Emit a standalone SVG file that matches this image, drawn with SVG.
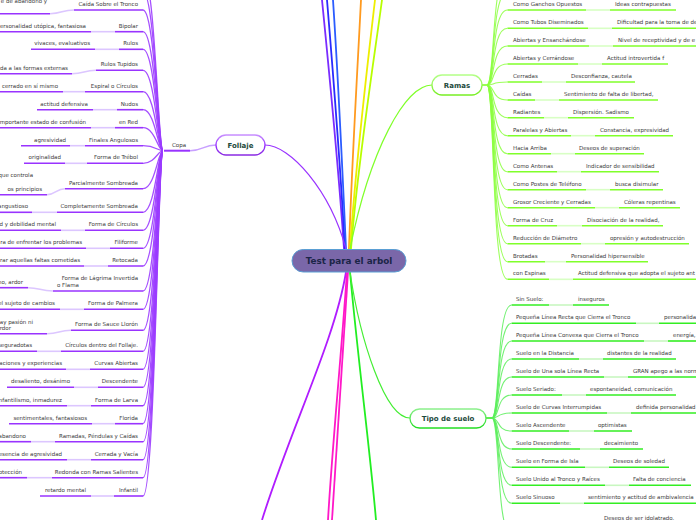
<svg xmlns="http://www.w3.org/2000/svg" width="696" height="520" viewBox="0 0 696 520">
<defs>
<style>
.t{font-family:"DejaVu Sans",Verdana,sans-serif;font-size:5.5px;fill:#3a3a3a}
.e{text-anchor:end}
.nl{font-family:"DejaVu Sans",Verdana,sans-serif;font-weight:bold;font-size:7px;fill:#1d4a3c;text-anchor:middle}
.up{stroke:#9933ff;stroke-width:1.6;fill:none}
.lp{stroke:#dcc6ff;stroke-width:1.6;fill:none}
.bp{stroke:#9b3cff;stroke-width:1.3;fill:none;opacity:.9}
.ug{stroke:#80ff2a;stroke-width:1.6;fill:none}
.lg{stroke:#d8ffc4;stroke-width:1.6;fill:none}
.bg{stroke:#8cff40;stroke-width:1.1;fill:none;opacity:.85}
.us{stroke:#33ee22;stroke-width:1.6;fill:none}
.ls{stroke:#c8f7c0;stroke-width:1.6;fill:none}
.bs{stroke:#5cee5c;stroke-width:1.1;fill:none;opacity:.85}
.m{fill:none;stroke-width:1.8}
</style>
<linearGradient id="gF" x1="0" y1="0" x2="0" y2="1"><stop offset="0" stop-color="#c890ff"/><stop offset=".5" stop-color="#9933ff"/><stop offset="1" stop-color="#8a2be2"/></linearGradient>
<linearGradient id="gR" x1="0" y1="0" x2="0" y2="1"><stop offset="0" stop-color="#b4ff88"/><stop offset="1" stop-color="#77ee22"/></linearGradient>
<linearGradient id="gT" x1="0" y1="0" x2="0" y2="1"><stop offset="0" stop-color="#8cf08c"/><stop offset="1" stop-color="#22dd22"/></linearGradient>
</defs>
<rect width="696" height="520" fill="#fff"/>

<g id="connectors">
<path class="m" stroke="#7a2cff" d="M344,249 C338,160 328,60 322,0"/>
<path class="m" stroke="#2a2aff" d="M345,249 C340,160 332,60 327,0"/>
<path class="m" stroke="#2b5cff" d="M346,249 C342,160 337,60 333,0"/>
<path class="m" stroke="#ff9a1f" d="M349,249 C352,160 358,60 361,0"/>
<path class="m" stroke="#eeee00" d="M350,249 C356,160 368,60 375,0"/>
<path class="m" stroke="#b8ff00" d="M351,249 C358,160 374,60 382,0"/>
<path class="m" stroke="#b01cff" d="M346,272 C335,340 290,430 262,520"/>
<path class="m" stroke="#ff18c8" d="M347,272 C340,370 332,450 328,520"/>
<path class="m" stroke="#ff18c8" d="M348,272 C342,370 336,450 332,520"/>
<path class="m" stroke="#22ee22" d="M350,272 C358,360 370,450 376,520"/>
<path stroke="#9933ff" stroke-width="1.2" fill="none" d="M265,145 C290,145 330,190 346,249"/>
<path stroke="#80ff2a" stroke-width="1.2" fill="none" d="M432,85 C405,85 370,150 350,249"/>
<path stroke="#44ee33" stroke-width="1.2" fill="none" d="M410,418 C385,418 360,340 350,272"/>
<path stroke="#c8a0ff" stroke-width="1.4" fill="none" d="M190,150.7 C203,150.7 203,145 216,145"/>
<path class="bp" d="M163,150.7 C158,150.7 155,-26 143,-26"/>
<path class="bp" d="M163,150.7 C158,150.7 155,-8 143,-8"/>
<path class="bp" d="M163,150.7 C158,150.7 155,10 143,10"/>
<path class="bp" d="M163,150.7 C158,150.7 155,31.7 143,31.7"/>
<path class="bp" d="M163,150.7 C158,150.7 155,49.3 143,49.3"/>
<path class="bp" d="M163,150.7 C158,150.7 155,70.3 143,70.3"/>
<path class="bp" d="M163,150.7 C158,150.7 155,91.7 143,91.7"/>
<path class="bp" d="M163,150.7 C158,150.7 155,109.7 143,109.7"/>
<path class="bp" d="M163,150.7 C158,150.7 155,127.7 143,127.7"/>
<path class="bp" d="M163,150.7 C158,150.7 155,145.7 143,145.7"/>
<path class="bp" d="M163,150.7 C158,150.7 155,163.3 143,163.3"/>
<path class="bp" d="M163,150.7 C158,150.7 155,188.7 143,188.7"/>
<path class="bp" d="M163,150.7 C158,150.7 155,212.3 143,212.3"/>
<path class="bp" d="M163,150.7 C158,150.7 155,230.3 143,230.3"/>
<path class="bp" d="M163,150.7 C158,150.7 155,248.3 143,248.3"/>
<path class="bp" d="M163,150.7 C158,150.7 155,266 143,266"/>
<path class="bp" d="M163,150.7 C158,150.7 155,291 143,291"/>
<path class="bp" d="M163,150.7 C158,150.7 155,309.3 143,309.3"/>
<path class="bp" d="M163,150.7 C158,150.7 155,330.3 143,330.3"/>
<path class="bp" d="M163,150.7 C158,150.7 155,351.3 143,351.3"/>
<path class="bp" d="M163,150.7 C158,150.7 155,369.3 143,369.3"/>
<path class="bp" d="M163,150.7 C158,150.7 155,387.3 143,387.3"/>
<path class="bp" d="M163,150.7 C158,150.7 155,405.7 143,405.7"/>
<path class="bp" d="M163,150.7 C158,150.7 155,423.7 143,423.7"/>
<path class="bp" d="M163,150.7 C158,150.7 155,441.7 143,441.7"/>
<path class="bp" d="M163,150.7 C158,150.7 155,459.7 143,459.7"/>
<path class="bp" d="M163,150.7 C158,150.7 155,477.7 143,477.7"/>
<path class="bp" d="M163,150.7 C158,150.7 155,496 143,496"/>
<path class="lp" d="M50,13.7 C62,13.7 62,10 74,10"/>
<path class="lp" d="M91,31.7 L115,31.7"/>
<path class="lp" d="M95,49.3 L119,49.3"/>
<path class="lp" d="M72,73.7 C84,73.7 84,70.3 96,70.3"/>
<path class="lp" d="M63,91.7 L85,91.7"/>
<path class="lp" d="M93,109.7 L117,109.7"/>
<path class="lp" d="M91,127.7 L115,127.7"/>
<path class="lp" d="M70,145.7 L85,145.7"/>
<path class="lp" d="M65,163.3 L87,163.3"/>
<path class="lp" d="M47,194.7 C56,194.7 56,188.7 65,188.7"/>
<path class="lp" d="M32,212.3 L57,212.3"/>
<path class="lp" d="M61,230.3 L85,230.3"/>
<path class="lp" d="M86,248.3 L110,248.3"/>
<path class="lp" d="M84,266 L108,266"/>
<path class="lp" d="M28,287.7 C40,287.7 40,291 53,291"/>
<path class="lp" d="M60,309.3 L84,309.3"/>
<path class="lp" d="M47,333.7 C59,333.7 59,330.3 71,330.3"/>
<path class="lp" d="M37,351.3 L61,351.3"/>
<path class="lp" d="M66,369.3 L90,369.3"/>
<path class="lp" d="M74,387.3 L98,387.3"/>
<path class="lp" d="M67,405.7 L91,405.7"/>
<path class="lp" d="M92,423.7 L115,423.7"/>
<path class="lp" d="M31,441.7 L55,441.7"/>
<path class="lp" d="M67,459.7 L91,459.7"/>
<path class="lp" d="M27,477.7 L52,477.7"/>
<path class="lp" d="M91,496 L114,496"/>
<path stroke="#80ff2a" stroke-width="1.6" d="M482,85 L487,85"/>
<path class="bg" d="M487,85 C495,85 491,-26 507.5,-26"/>
<path class="bg" d="M487,85 C495,85 491,-8 507.5,-8"/>
<path class="bg" d="M487,85 C495,85 491,10 507.5,10"/>
<path class="bg" d="M487,85 C495,85 491,28.3 507.5,28.3"/>
<path class="bg" d="M487,85 C495,85 491,46 507.5,46"/>
<path class="bg" d="M487,85 C495,85 491,64 507.5,64"/>
<path class="bg" d="M487,85 C495,85 491,82 507.5,82"/>
<path class="bg" d="M487,85 C495,85 491,100 507.5,100"/>
<path class="bg" d="M487,85 C495,85 491,117.7 507.5,117.7"/>
<path class="bg" d="M487,85 C495,85 491,135.7 507.5,135.7"/>
<path class="bg" d="M487,85 C495,85 491,153.7 507.5,153.7"/>
<path class="bg" d="M487,85 C495,85 491,171.7 507.5,171.7"/>
<path class="bg" d="M487,85 C495,85 491,189.7 507.5,189.7"/>
<path class="bg" d="M487,85 C495,85 491,207.7 507.5,207.7"/>
<path class="bg" d="M487,85 C495,85 491,225.7 507.5,225.7"/>
<path class="bg" d="M487,85 C495,85 491,243.7 507.5,243.7"/>
<path class="bg" d="M487,85 C495,85 491,261.7 507.5,261.7"/>
<path class="bg" d="M487,85 C495,85 491,279.3 507.5,279.3"/>
<path class="lg" d="M586,10 L610,10"/>
<path class="lg" d="M588,28.3 L612,28.3"/>
<path class="lg" d="M589,46 L613,46"/>
<path class="lg" d="M578,64 L602,64"/>
<path class="lg" d="M542,82 L566,82"/>
<path class="lg" d="M535,100 L559,100"/>
<path class="lg" d="M544,117.7 L568,117.7"/>
<path class="lg" d="M571,135.7 L595,135.7"/>
<path class="lg" d="M551,153.7 L575,153.7"/>
<path class="lg" d="M557,171.7 L581,171.7"/>
<path class="lg" d="M586,189.7 L610,189.7"/>
<path class="lg" d="M595,207.7 L619,207.7"/>
<path class="lg" d="M557,225.7 L582,225.7"/>
<path class="lg" d="M581,243.7 L605,243.7"/>
<path class="lg" d="M545,261.7 L566,261.7"/>
<path class="lg" d="M549,279.3 L573,279.3"/>
<path stroke="#33ee22" stroke-width="1.6" d="M486,418 L492,418"/>
<path class="bs" d="M492,418 C500,418 496,305 511.7,305"/>
<path class="bs" d="M492,418 C500,418 496,323.3 511.7,323.3"/>
<path class="bs" d="M492,418 C500,418 496,341 511.7,341"/>
<path class="bs" d="M492,418 C500,418 496,359 511.7,359"/>
<path class="bs" d="M492,418 C500,418 496,377 511.7,377"/>
<path class="bs" d="M492,418 C500,418 496,395 511.7,395"/>
<path class="bs" d="M492,418 C500,418 496,413 511.7,413"/>
<path class="bs" d="M492,418 C500,418 496,431 511.7,431"/>
<path class="bs" d="M492,418 C500,418 496,449 511.7,449"/>
<path class="bs" d="M492,418 C500,418 496,467.3 511.7,467.3"/>
<path class="bs" d="M492,418 C500,418 496,485.3 511.7,485.3"/>
<path class="bs" d="M492,418 C500,418 496,503.3 511.7,503.3"/>
<path class="bs" d="M492,418 C500,418 496,535 511.7,535"/>
<path class="ls" d="M549,305 L573,305"/>
<path class="ls" d="M636,323.3 L659,323.3"/>
<path class="ls" d="M644,341 L668,341"/>
<path class="ls" d="M579,359 L603,359"/>
<path class="ls" d="M604,377 L628,377"/>
<path class="ls" d="M562,395 L586,395"/>
<path class="ls" d="M607,413 L631,413"/>
<path class="ls" d="M569,431 L594,431"/>
<path class="ls" d="M580,449 L600,449"/>
<path class="ls" d="M585,467.3 L609,467.3"/>
<path class="ls" d="M605,485.3 L629,485.3"/>
<path class="ls" d="M560,503.3 L584,503.3"/>
</g>

<g id="follaje">
<rect x="216" y="135" width="49" height="20" rx="10" fill="#fff" stroke="url(#gF)" stroke-width="1.3"/>
<text class="nl" x="240.5" y="147.5">Follaje</text>
</g>
<g id="copa">
<line x1="164" y1="150.7" x2="190" y2="150.7" stroke="#9933ff" stroke-width="2"/>
<text class="t" x="172" y="146.5">Copa</text>
</g>

<g id="follaje-children">
<g id="f1"><line class="up" x1="74" y1="10" x2="143" y2="10"/><text class="t e" x="138" y="6">Caída Sobre el Tronco</text></g>
<g id="f1g"><line class="up" x1="0" y1="13.7" x2="50" y2="13.7"/><text class="t e" x="47" y="3">e de abandono y</text></g>
<g id="f2"><line class="up" x1="115" y1="31.7" x2="143" y2="31.7"/><text class="t e" x="138" y="27.7">Bipolar</text></g>
<g id="f2g"><line class="up" x1="0" y1="31.7" x2="91" y2="31.7"/><text class="t e" x="86" y="27.7">ersonalidad utópica, fantasiosa</text></g>
<g id="f3"><line class="up" x1="119" y1="49.3" x2="143" y2="49.3"/><text class="t e" x="138" y="45.3">Rulos</text></g>
<g id="f3g"><line class="up" x1="31" y1="49.3" x2="95" y2="49.3"/><text class="t e" x="90" y="45.3">vivaces, evaluativos</text></g>
<g id="f4"><line class="up" x1="96" y1="70.3" x2="143" y2="70.3"/><text class="t e" x="138" y="66.3">Rulos Tupidos</text></g>
<g id="f4g"><line class="up" x1="0" y1="73.7" x2="72" y2="73.7"/><text class="t e" x="68" y="69.5">da a las formas externas</text></g>
<g id="f5"><line class="up" x1="85" y1="91.7" x2="143" y2="91.7"/><text class="t e" x="138" y="87.7">Espiral o Círculos</text></g>
<g id="f5g"><line class="up" x1="0" y1="91.7" x2="63" y2="91.7"/><text class="t e" x="58" y="87.7">cerrado en sí mismo</text></g>
<g id="f6"><line class="up" x1="117" y1="109.7" x2="143" y2="109.7"/><text class="t e" x="138" y="105.7">Nudos</text></g>
<g id="f6g"><line class="up" x1="37" y1="109.7" x2="93" y2="109.7"/><text class="t e" x="88" y="105.7">actitud defensiva</text></g>
<g id="f7"><line class="up" x1="115" y1="127.7" x2="143" y2="127.7"/><text class="t e" x="138" y="123.7">en Red</text></g>
<g id="f7g"><line class="up" x1="0" y1="127.7" x2="91" y2="127.7"/><text class="t e" x="86" y="123.7">mportante estado de confusión</text></g>
<g id="f8"><line class="up" x1="85" y1="145.7" x2="143" y2="145.7"/><text class="t e" x="138" y="141.7">Finales Angulosos</text></g>
<g id="f8g"><line class="up" x1="21" y1="145.7" x2="70" y2="145.7"/><text class="t e" x="66" y="141.7">agresividad</text></g>
<g id="f9"><line class="up" x1="87" y1="163.3" x2="143" y2="163.3"/><text class="t e" x="138" y="159.3">Forma de Trébol</text></g>
<g id="f9g"><line class="up" x1="24" y1="163.3" x2="65" y2="163.3"/><text class="t e" x="61" y="159.3">originalidad</text></g>
<g id="f10"><line class="up" x1="65" y1="188.7" x2="143" y2="188.7"/><text class="t e" x="138" y="184.7">Parcialmente Sombreada</text></g>
<g id="f10g"><line class="up" x1="0" y1="194.7" x2="47" y2="194.7"/><text class="t e" x="33" y="177">que controla</text><text class="t e" x="42" y="190.5">os principios</text></g>
<g id="f11"><line class="up" x1="57" y1="212.3" x2="143" y2="212.3"/><text class="t e" x="138" y="208.3">Completamente Sombreada</text></g>
<g id="f11g"><line class="up" x1="0" y1="212.3" x2="32" y2="212.3"/><text class="t e" x="28" y="208.3">angustioso</text></g>
<g id="f12"><line class="up" x1="85" y1="230.3" x2="143" y2="230.3"/><text class="t e" x="138" y="226.3">Forma de Círculos</text></g>
<g id="f12g"><line class="up" x1="0" y1="230.3" x2="61" y2="230.3"/><text class="t e" x="56" y="226.3">d y debilidad mental</text></g>
<g id="f13"><line class="up" x1="110" y1="248.3" x2="143" y2="248.3"/><text class="t e" x="138" y="244.3">Filiforme</text></g>
<g id="f13g"><line class="up" x1="0" y1="248.3" x2="86" y2="248.3"/><text class="t e" x="82" y="244.3">ra de enfrentar los problemas</text></g>
<g id="f14"><line class="up" x1="108" y1="266" x2="143" y2="266"/><text class="t e" x="138" y="262">Retocada</text></g>
<g id="f14g"><line class="up" x1="0" y1="266" x2="84" y2="266"/><text class="t e" x="80" y="262">rar aquellas faltas cometidas</text></g>
<g id="f15"><line class="up" x1="53" y1="291" x2="143" y2="291"/><text class="t e" x="138" y="279.7">Forma de Lágrima Invertida</text><text class="t" x="57" y="287">o Flama</text></g>
<g id="f15g"><line class="up" x1="0" y1="287.7" x2="28" y2="287.7"/><text class="t e" x="23" y="283.5">no, ardor</text></g>
<g id="f16"><line class="up" x1="84" y1="309.3" x2="143" y2="309.3"/><text class="t e" x="138" y="305.3">Forma de Palmera</text></g>
<g id="f16g"><line class="up" x1="0" y1="309.3" x2="60" y2="309.3"/><text class="t e" x="55" y="305.3">el sujeto de cambios</text></g>
<g id="f17"><line class="up" x1="71" y1="330.3" x2="143" y2="330.3"/><text class="t e" x="138" y="326.3">Forma de Sauce Llorón</text></g>
<g id="f17g"><line class="up" x1="0" y1="333.7" x2="47" y2="333.7"/><text class="t e" x="33" y="323.8">o hay pasión ni</text><text class="t e" x="11" y="329.5">rdor</text></g>
<g id="f18"><line class="up" x1="61" y1="351.3" x2="143" y2="351.3"/><text class="t e" x="138" y="347.3">Círculos dentro del Follaje.</text></g>
<g id="f18g"><line class="up" x1="0" y1="351.3" x2="37" y2="351.3"/><text class="t e" x="32" y="347.3">seguradotas</text></g>
<g id="f19"><line class="up" x1="90" y1="369.3" x2="143" y2="369.3"/><text class="t e" x="138" y="365.3">Curvas Abiertas</text></g>
<g id="f19g"><line class="up" x1="0" y1="369.3" x2="66" y2="369.3"/><text class="t e" x="62" y="365.3">aciones y experiencias</text></g>
<g id="f20"><line class="up" x1="98" y1="387.3" x2="143" y2="387.3"/><text class="t e" x="138" y="383.3">Descendente</text></g>
<g id="f20g"><line class="up" x1="7" y1="387.3" x2="74" y2="387.3"/><text class="t e" x="70" y="383.3">desaliento, desánimo</text></g>
<g id="f21"><line class="up" x1="91" y1="405.7" x2="143" y2="405.7"/><text class="t e" x="138" y="401.7">Forma de Larva</text></g>
<g id="f21g"><line class="up" x1="0" y1="405.7" x2="67" y2="405.7"/><text class="t e" x="62" y="401.7">nfantilismo, inmadurez</text></g>
<g id="f22"><line class="up" x1="115" y1="423.7" x2="143" y2="423.7"/><text class="t e" x="138" y="419.7">Florida</text></g>
<g id="f22g"><line class="up" x1="9" y1="423.7" x2="92" y2="423.7"/><text class="t e" x="87" y="419.7">sentimentales, fantasiosos</text></g>
<g id="f23"><line class="up" x1="55" y1="441.7" x2="143" y2="441.7"/><text class="t e" x="138" y="437.7">Ramadas, Péndulas y Caídas</text></g>
<g id="f23g"><line class="up" x1="0" y1="441.7" x2="31" y2="441.7"/><text class="t e" x="26" y="437.7">abandono</text></g>
<g id="f24"><line class="up" x1="91" y1="459.7" x2="143" y2="459.7"/><text class="t e" x="138" y="455.7">Cerrada y Vacía</text></g>
<g id="f24g"><line class="up" x1="0" y1="459.7" x2="67" y2="459.7"/><text class="t e" x="62" y="455.7">esencia de agresividad</text></g>
<g id="f25"><line class="up" x1="52" y1="477.7" x2="143" y2="477.7"/><text class="t e" x="138" y="473.7">Redonda con Ramas Salientes</text></g>
<g id="f25g"><line class="up" x1="0" y1="477.7" x2="27" y2="477.7"/><text class="t e" x="22" y="473.7">otección</text></g>
<g id="f26"><line class="up" x1="114" y1="496" x2="143" y2="496"/><text class="t e" x="138" y="492">Infantil</text></g>
<g id="f26g"><line class="up" x1="40" y1="496" x2="91" y2="496"/><text class="t e" x="86" y="492">retardo mental</text></g>
</g>

<g id="ramas">
<rect x="432" y="75" width="50" height="20" rx="10" fill="#fff" stroke="url(#gR)" stroke-width="1.3"/>
<text class="nl" x="457" y="87.5">Ramas</text>
</g>
<g id="ramas-children">
<g id="r1"><line class="ug" x1="507.5" y1="10" x2="586" y2="10"/><text class="t" x="513" y="6">Como Ganchos Opuestos</text><line class="ug" x1="610" y1="10" x2="676" y2="10"/><text class="t" x="615" y="6">Ideas contrapuestas</text></g>
<g id="r2"><line class="ug" x1="507.5" y1="28.3" x2="588" y2="28.3"/><text class="t" x="513" y="24.3">Como Tubos Diseminados</text><line class="ug" x1="612" y1="28.3" x2="700" y2="28.3"/><text class="t" x="617" y="24.3">Dificultad para la toma de de</text></g>
<g id="r3"><line class="ug" x1="507.5" y1="46" x2="589" y2="46"/><text class="t" x="513" y="42">Abiertas y Ensanchándose</text><line class="ug" x1="613" y1="46" x2="700" y2="46"/><text class="t" x="618" y="42">Nivel de receptividad y de e</text></g>
<g id="r4"><line class="ug" x1="507.5" y1="64" x2="578" y2="64"/><text class="t" x="513" y="60">Abiertas y Cerrándose</text><line class="ug" x1="602" y1="64" x2="668" y2="64"/><text class="t" x="607" y="60">Actitud introvertida f</text></g>
<g id="r5"><line class="ug" x1="507.5" y1="82" x2="542" y2="82"/><text class="t" x="513" y="78">Cerradas</text><line class="ug" x1="566" y1="82" x2="635" y2="82"/><text class="t" x="571" y="78">Desconfianza, cautela</text></g>
<g id="r6"><line class="ug" x1="507.5" y1="100" x2="535" y2="100"/><text class="t" x="513" y="96">Caídas</text><line class="ug" x1="559" y1="100" x2="658" y2="100"/><text class="t" x="564" y="96">Sentimiento de falta de libertad,</text></g>
<g id="r7"><line class="ug" x1="507.5" y1="117.7" x2="544" y2="117.7"/><text class="t" x="513" y="113.7">Radiantes</text><line class="ug" x1="568" y1="117.7" x2="634" y2="117.7"/><text class="t" x="573" y="113.7">Dispersión. Sadismo</text></g>
<g id="r8"><line class="ug" x1="507.5" y1="135.7" x2="571" y2="135.7"/><text class="t" x="513" y="131.7">Paralelas y Abiertas</text><line class="ug" x1="595" y1="135.7" x2="673" y2="135.7"/><text class="t" x="600" y="131.7">Constancia, expresividad</text></g>
<g id="r9"><line class="ug" x1="507.5" y1="153.7" x2="551" y2="153.7"/><text class="t" x="513" y="149.7">Hacia Arriba</text><line class="ug" x1="575" y1="153.7" x2="644" y2="153.7"/><text class="t" x="579" y="149.7">Deseos de superación</text></g>
<g id="r10"><line class="ug" x1="507.5" y1="171.7" x2="557" y2="171.7"/><text class="t" x="513" y="167.7">Como Antenas</text><line class="ug" x1="581" y1="171.7" x2="659" y2="171.7"/><text class="t" x="586" y="167.7">Indicador de sensibilidad</text></g>
<g id="r11"><line class="ug" x1="507.5" y1="189.7" x2="586" y2="189.7"/><text class="t" x="513" y="185.7">Como Postes de Teléfono</text><line class="ug" x1="610" y1="189.7" x2="663" y2="189.7"/><text class="t" x="615" y="185.7">busca disimular</text></g>
<g id="r12"><line class="ug" x1="507.5" y1="207.7" x2="595" y2="207.7"/><text class="t" x="513" y="203.7">Grosor Creciente y Cerradas</text><line class="ug" x1="619" y1="207.7" x2="680" y2="207.7"/><text class="t" x="624" y="203.7">Cóleras repentinas</text></g>
<g id="r13"><line class="ug" x1="507.5" y1="225.7" x2="557" y2="225.7"/><text class="t" x="513" y="221.7">Forma de Cruz</text><line class="ug" x1="582" y1="225.7" x2="663" y2="225.7"/><text class="t" x="587" y="221.7">Disociación de la realidad,</text></g>
<g id="r14"><line class="ug" x1="507.5" y1="243.7" x2="581" y2="243.7"/><text class="t" x="513" y="239.7">Reducción de Diámetro</text><line class="ug" x1="605" y1="243.7" x2="689" y2="243.7"/><text class="t" x="610" y="239.7">opresión y autodestrucción</text></g>
<g id="r15"><line class="ug" x1="507.5" y1="261.7" x2="545" y2="261.7"/><text class="t" x="513" y="257.7">Brotadas</text><line class="ug" x1="566" y1="261.7" x2="648" y2="261.7"/><text class="t" x="571" y="257.7">Personalidad hipersensible</text></g>
<g id="r16"><line class="ug" x1="507.5" y1="279.3" x2="549" y2="279.3"/><text class="t" x="513" y="275.3">con Espinas</text><line class="ug" x1="573" y1="279.3" x2="700" y2="279.3"/><text class="t" x="578" y="275.3">Actitud defensiva que adopta el sujeto ant</text></g>
</g>

<g id="tipo">
<rect x="410" y="409" width="76" height="19" rx="9.5" fill="#fff" stroke="url(#gT)" stroke-width="1.3"/>
<text class="nl" x="448" y="421">Tipo de suelo</text>
</g>
<g id="tipo-children">
<g id="t1"><line class="us" x1="511.7" y1="305" x2="549" y2="305"/><text class="t" x="516" y="301">Sin Suelo:</text><line class="us" x1="573" y1="305" x2="609" y2="305"/><text class="t" x="578" y="301">inseguros</text></g>
<g id="t2"><line class="us" x1="511.7" y1="323.3" x2="636" y2="323.3"/><text class="t" x="516" y="319.3">Pequeña Línea Recta que Cierra el Tronco</text><line class="us" x1="659" y1="323.3" x2="700" y2="323.3"/><text class="t" x="664" y="319.3">personalida</text></g>
<g id="t3"><line class="us" x1="511.7" y1="341" x2="644" y2="341"/><text class="t" x="516" y="337">Pequeña Línea Convexa que Cierra el Tronco</text><line class="us" x1="668" y1="341" x2="700" y2="341"/><text class="t" x="673" y="337">energía,</text></g>
<g id="t4"><line class="us" x1="511.7" y1="359" x2="579" y2="359"/><text class="t" x="516" y="355">Suelo en la Distancia</text><line class="us" x1="603" y1="359" x2="676" y2="359"/><text class="t" x="607" y="355">distantes de la realidad</text></g>
<g id="t5"><line class="us" x1="511.7" y1="377" x2="604" y2="377"/><text class="t" x="516" y="373">Suelo de Una sola Línea Recta</text><line class="us" x1="628" y1="377" x2="700" y2="377"/><text class="t" x="633" y="373">GRAN apego a las norm</text></g>
<g id="t6"><line class="us" x1="511.7" y1="395" x2="562" y2="395"/><text class="t" x="516" y="391">Suelo Seriado:</text><line class="us" x1="586" y1="395" x2="676" y2="395"/><text class="t" x="590" y="391">espontaneidad, comunicación</text></g>
<g id="t7"><line class="us" x1="511.7" y1="413" x2="607" y2="413"/><text class="t" x="516" y="409">Suelo de Curvas Interrumpidas</text><line class="us" x1="631" y1="413" x2="700" y2="413"/><text class="t" x="636" y="409">definida personalidad</text></g>
<g id="t8"><line class="us" x1="511.7" y1="431" x2="569" y2="431"/><text class="t" x="516" y="427">Suelo Ascendente</text><line class="us" x1="594" y1="431" x2="632" y2="431"/><text class="t" x="598" y="427">optimistas</text></g>
<g id="t9"><line class="us" x1="511.7" y1="449" x2="580" y2="449"/><text class="t" x="516" y="445">Suelo Descendente:</text><line class="us" x1="600" y1="449" x2="643" y2="449"/><text class="t" x="604" y="445">decaimiento</text></g>
<g id="t10"><line class="us" x1="511.7" y1="467.3" x2="585" y2="467.3"/><text class="t" x="516" y="463.3">Suelo en Forma de Isla</text><line class="us" x1="609" y1="467.3" x2="669" y2="467.3"/><text class="t" x="613" y="463.3">Deseos de soledad</text></g>
<g id="t11"><line class="us" x1="511.7" y1="485.3" x2="605" y2="485.3"/><text class="t" x="516" y="481.3">Suelo Unido al Tronco y Raíces</text><line class="us" x1="629" y1="485.3" x2="691" y2="485.3"/><text class="t" x="633" y="481.3">Falta de conciencia</text></g>
<g id="t12"><line class="us" x1="511.7" y1="503.3" x2="560" y2="503.3"/><text class="t" x="516" y="499.3">Suelo Sinuoso</text><line class="us" x1="584" y1="503.3" x2="700" y2="503.3"/><text class="t" x="588" y="499.3">sentimiento y actitud de ambivalencia</text></g>
<g id="t13"><text class="t" x="604" y="519.5">Deseos de ser idolatrado.</text></g>
</g>

<g id="center">
<rect x="292" y="249.5" width="114" height="22.5" rx="11.2" fill="#7a67a9" stroke="#5a9fd4" stroke-width="1"/>
<text x="349" y="264.3" text-anchor="middle" font-family="'DejaVu Sans',Verdana,sans-serif" font-weight="bold" font-size="8.8" fill="#1b2547">Test para el arbol</text>
</g>
</svg>
